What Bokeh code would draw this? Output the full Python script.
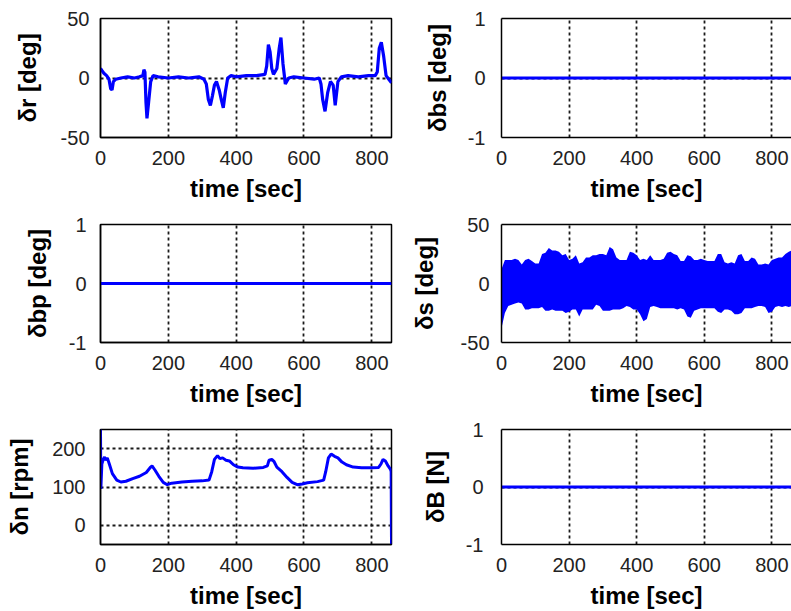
from bokeh.plotting import figure
from bokeh.layouts import column, row
from bokeh.models import FixedTicker, Range1d, LinearAxis
from bokeh.embed import file_html
from bokeh.resources import INLINE

# ---------------- data ----------------
X_END = 858
x_ticks = [0, 200, 400, 600, 800]
x_tick_labels = ["0", "200", "400", "600", "800"]
x_grid = [200, 400, 600, 800]

# rudder angle delta_r [deg]
t_r = [0, 5, 10, 18, 25, 30, 34, 38, 45, 60, 80, 100, 115, 125, 128, 131, 134, 137, 142, 148,
       155, 170, 200, 230, 260, 290, 305, 312, 318, 324, 330, 336, 342, 350, 356, 362, 368, 375, 385, 400,
       430, 460, 485, 490, 495, 500, 505, 510, 520, 527, 532, 538, 545, 555, 570, 600, 630, 645, 650, 655,
       662, 670, 678, 686, 692, 700, 710, 730, 760, 790, 810, 816, 822, 828, 835, 842, 850, 858]
v_r = [8, 6, 4, 2, -1, -9, -10, -3, -1, 0, 1, 0, 1, 2, 7, 5, -20, -34, -20, -3,
       2, 1, 0, 1, 0, 1, -1, -5, -18, -23, -15, -6, -3, -10, -18, -25, -12, 0, 2, 1,
       2, 2, 3, 10, 28, 22, 8, 3, 8, 25, 34, 12, -5, 0, 1, 0, -1, 0, -5, -18,
       -28, -12, -3, -6, -23, -3, 1, 2, 1, 2, 2, 5, 25, 30, 18, 2, -1, -4]

# zero signals
t_zero = [0, 858]
v_bs = [0, 0]
v_bp = [0, 0]
v_B = [0, 0]

# delta_s [deg]: envelope of the fast oscillation
t_s = list(range(0, 860, 10)) + [858]
s_upper = [12, 20, 20, 20, 21, 20, 16, 20, 21, 19,
           17, 17, 25, 26, 30, 28, 28, 27, 24, 25,
           20, 21, 24, 17, 18, 22, 22, 24, 24, 25,
           25, 24, 31, 29, 22, 20, 20, 20, 27, 26,
           24, 20, 21, 20, 24, 20, 20, 20, 21, 26,
           27, 25, 24, 19, 19, 24, 23, 20, 20, 21,
           20, 19, 19, 19, 25, 25, 18, 17, 18, 17,
           24, 25, 19, 19, 22, 21, 16, 16, 17, 16,
           20, 21, 22, 22, 25, 27,
           28]
s_lower = [-38, -25, -19, -18, -17, -16, -17, -22, -22, -21,
           -21, -21, -20, -23, -23, -22, -23, -23, -23, -25,
           -24, -22, -22, -28, -22, -22, -22, -22, -18, -19,
           -23, -23, -23, -22, -22, -22, -21, -19, -20, -22,
           -22, -26, -32, -30, -20, -19, -20, -21, -21, -21,
           -21, -21, -22, -21, -22, -28, -29, -23, -22, -21,
           -21, -21, -21, -21, -24, -25, -22, -22, -23, -26,
           -26, -25, -21, -21, -21, -20, -19, -19, -20, -25,
           -24, -20, -19, -20, -19, -20,
           -19]

# propeller delta_n [rpm]
t_n = [0, 1, 4, 8, 12, 16, 20, 26, 35, 48, 60, 75, 95, 115, 135, 148, 152, 160, 172, 185,
       197, 210, 240, 270, 300, 320, 328, 336, 345, 352, 360, 370, 380, 392, 405, 420, 450, 480, 492, 497,
       505, 512, 520, 535, 550, 565, 580, 595, 610, 640, 658, 664, 672, 680, 690, 700, 712, 725, 745, 770,
       800, 820, 827, 833, 840, 848, 855, 857, 858]
v_n = [250, 95, 160, 172, 178, 170, 176, 160, 135, 118, 113, 115, 122, 128, 138, 152, 155, 145, 128, 112,
       106, 110, 113, 115, 116, 118, 140, 172, 182, 174, 176, 170, 168, 158, 152, 150, 149, 151, 155, 170,
       172, 166, 152, 140, 125, 112, 106, 108, 111, 114, 118, 140, 176, 186, 180, 176, 165, 158, 152, 150,
       150, 151, 160, 172, 168, 155, 146, 140, -50]

# y-axis labels
ylabels = ["δr [deg]", "δbs [deg]", "δbp [deg]", "δs [deg]", "δn [rpm]", "δB [N]"]

# ---------------- styling helpers ----------------
FONT = "Liberation Sans"
BLUE = "#0000ff"


def tick_w(s, size=20):
    return sum(0.333 if c == "-" else 0.556 for c in s) * size


def make_panel(width, height, left, right, top, bottom, y_lo, y_hi, yticks, ystandoff,
               right_col, ylabel, base_x):
    p = figure(width=width, height=height, output_backend="svg", toolbar_location=None,
               x_range=Range1d(0, X_END), y_range=Range1d(y_lo, y_hi),
               min_border_left=left, min_border_right=right,
               min_border_top=top, min_border_bottom=bottom,
               background_fill_color="white", border_fill_color="white")
    xa = p.xaxis[0]
    ya = p.yaxis[0]
    xa.ticker = FixedTicker(ticks=x_ticks)
    xa.major_label_overrides = {t: l for t, l in zip(x_ticks, x_tick_labels)}
    ya.ticker = FixedTicker(ticks=yticks)
    ya.major_label_overrides = {t: str(t) for t in yticks}
    for ax in (xa, ya):
        ax.major_tick_line_color = None
        ax.minor_tick_line_color = None
        ax.axis_line_color = "black"
        ax.axis_line_width = 1.5
        ax.major_label_text_font = FONT
        ax.major_label_text_font_size = "20px"
        ax.major_label_text_color = "#222222"
        ax.axis_label_text_font = FONT
        ax.axis_label_text_font_size = "24px"
        ax.axis_label_text_font_style = "bold"
        ax.axis_label_text_color = "black"
    xa.major_label_standoff = 7
    xa.axis_label = "time [sec]"
    xa.axis_label_standoff = 7
    ya.major_label_standoff = ystandoff
    ya.axis_label = ylabel
    widest = max(tick_w(str(t)) for t in yticks)
    ya.axis_label_standoff = max(2, int(round(base_x - 5 - ystandoff - widest)))
    p.xgrid.ticker = FixedTicker(ticks=x_grid)
    p.ygrid.ticker = FixedTicker(ticks=yticks)
    for g in (p.xgrid, p.ygrid):
        g.grid_line_color = "#1a1a1a"
        g.grid_line_width = 1.8
        g.grid_line_dash = "3 3"
    if right_col:
        p.outline_line_color = None
        topax = LinearAxis(ticker=FixedTicker(ticks=[]), axis_line_color="black", axis_line_width=1.5,
                           major_tick_line_color=None, minor_tick_line_color=None)
        p.add_layout(topax, "above")
    else:
        p.outline_line_color = "black"
        p.outline_line_width = 1.5
    return p


# ---------------- panels ----------------
p1 = make_panel(400, 205, 100, 9, 18, 68, -50, 50, [-50, 0, 50], 5, False, ylabels[0], 56)
p1.line(t_r, v_r, line_color=BLUE, line_width=3.2)

p2 = make_panel(391, 205, 101, 0, 18, 68, -1, 1, [-1, 0, 1], 10, True, ylabels[1], 47)
p2.line(t_zero, v_bs, line_color=BLUE, line_width=3)

p3 = make_panel(400, 205, 100, 9, 19, 68, -1, 1, [-1, 0, 1], 8, False, ylabels[2], 46)
p3.line(t_zero, v_bp, line_color=BLUE, line_width=3)

p4 = make_panel(391, 205, 101, 0, 19, 68, -50, 50, [-50, 0, 50], 6, True, ylabels[3], 60)
p4.varea(x=t_s, y1=s_lower, y2=s_upper, fill_color=BLUE)

p5 = make_panel(400, 201, 100, 9, 19, 64, -50, 250, [0, 100, 200], 9, False, ylabels[4], 63)
p5.line(t_n, v_n, line_color=BLUE, line_width=3)

p6 = make_panel(391, 201, 101, 0, 19, 64, -1, 1, [-1, 0, 1], 12, True, ylabels[5], 49)
p6.line(t_zero, v_B, line_color=BLUE, line_width=3)

layout = column(row(p1, p2), row(p3, p4), row(p5, p6))

open("out.html", "w").write(file_html(layout, INLINE))
